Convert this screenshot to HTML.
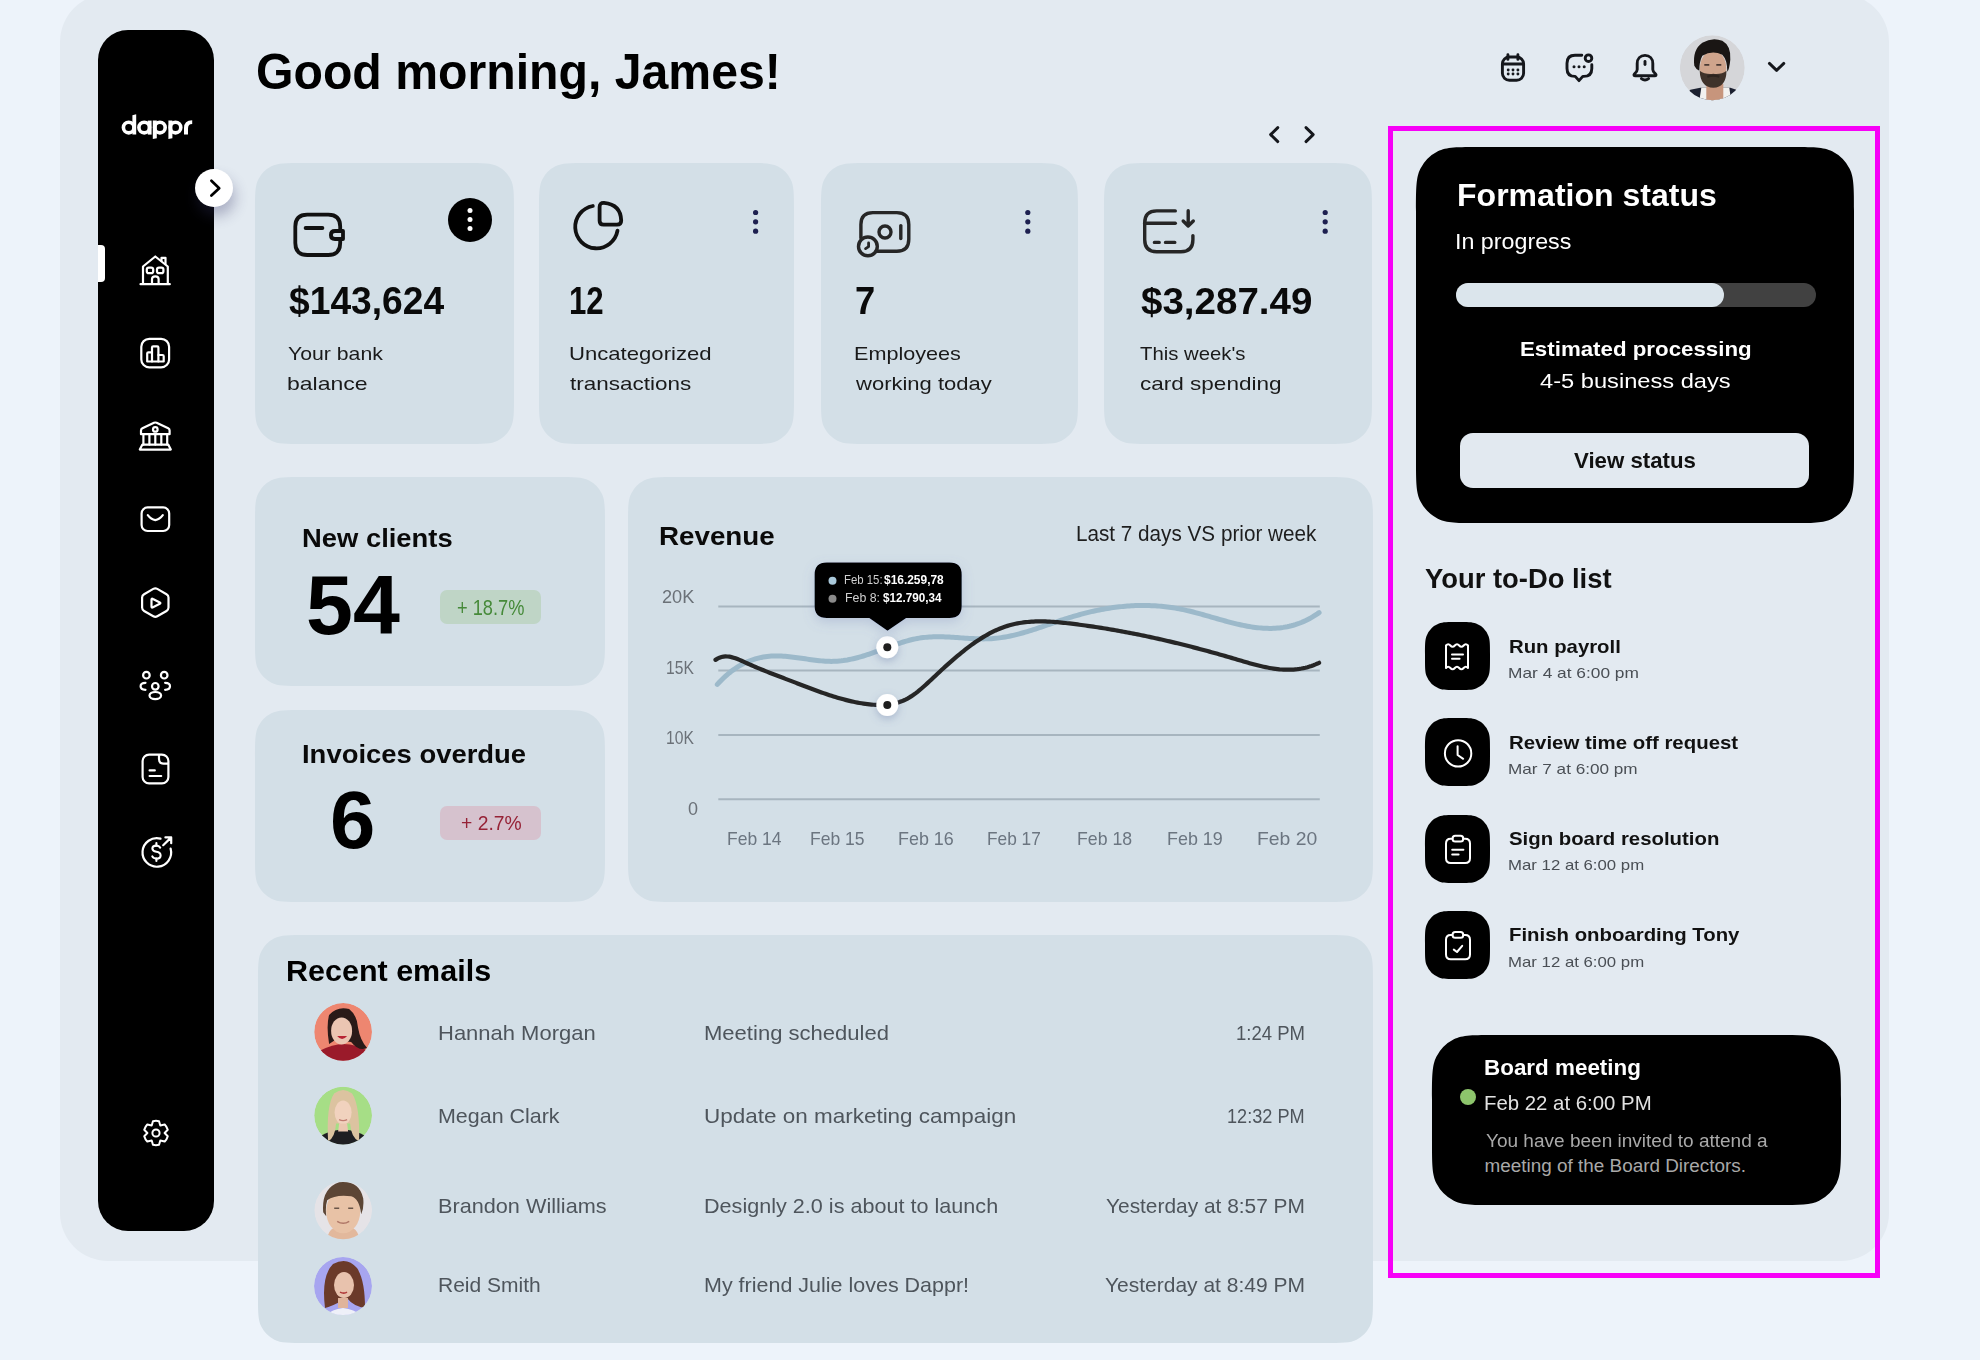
<!DOCTYPE html>
<html><head><meta charset="utf-8"><style>
html,body{margin:0;padding:0;}
body{width:1980px;height:1360px;position:relative;overflow:hidden;background:#EDF3FA;font-family:"Liberation Sans",sans-serif;}
.b{position:absolute;box-sizing:border-box;}
.t{position:absolute;white-space:nowrap;line-height:1;transform-origin:0 0;}
svg{position:absolute;overflow:visible;}
</style></head><body>
<div class="b" style="left:60px;top:-6px;width:1829px;height:1267px;background:#E3EAF1;border-radius:48px;"></div>
<div class="b" style="left:98px;top:30px;width:116px;height:1201px;background:#000;border-radius:30px;"></div>
<div class="b" style="left:98px;top:245px;width:7px;height:37px;background:#fff;border-radius:0px;border-radius:0 4px 4px 0;"></div>
<svg style="left:0;top:0" width="1980" height="1360"><path d="M466.000 163.000 c16.802 0 25.202 0 31.620 3.270 a30.000 30.000 0 0 1 13.110 13.110 c3.270 6.417 3.270 14.818 3.270 31.620 L514.000 396.000 c0 16.802 0 25.202 -3.270 31.620 a30.000 30.000 0 0 1 -13.110 13.110 c-6.417 3.270 -14.818 3.270 -31.620 3.270 L303.000 444.000 c-16.802 0 -25.202 0 -31.620 -3.270 a30.000 30.000 0 0 1 -13.110 -13.110 c-3.270 -6.417 -3.270 -14.818 -3.270 -31.620 L255.000 211.000 c0 -16.802 0 -25.202 3.270 -31.620 a30.000 30.000 0 0 1 13.110 -13.110 c6.417 -3.270 14.818 -3.270 31.620 -3.270 Z" fill="#D3DFE7"/><path d="M746.000 163.000 c16.802 0 25.202 0 31.620 3.270 a30.000 30.000 0 0 1 13.110 13.110 c3.270 6.417 3.270 14.818 3.270 31.620 L794.000 396.000 c0 16.802 0 25.202 -3.270 31.620 a30.000 30.000 0 0 1 -13.110 13.110 c-6.417 3.270 -14.818 3.270 -31.620 3.270 L587.000 444.000 c-16.802 0 -25.202 0 -31.620 -3.270 a30.000 30.000 0 0 1 -13.110 -13.110 c-3.270 -6.417 -3.270 -14.818 -3.270 -31.620 L539.000 211.000 c0 -16.802 0 -25.202 3.270 -31.620 a30.000 30.000 0 0 1 13.110 -13.110 c6.417 -3.270 14.818 -3.270 31.620 -3.270 Z" fill="#D3DFE7"/><path d="M1030.000 163.000 c16.802 0 25.202 0 31.620 3.270 a30.000 30.000 0 0 1 13.110 13.110 c3.270 6.417 3.270 14.818 3.270 31.620 L1078.000 396.000 c0 16.802 0 25.202 -3.270 31.620 a30.000 30.000 0 0 1 -13.110 13.110 c-6.417 3.270 -14.818 3.270 -31.620 3.270 L869.000 444.000 c-16.802 0 -25.202 0 -31.620 -3.270 a30.000 30.000 0 0 1 -13.110 -13.110 c-3.270 -6.417 -3.270 -14.818 -3.270 -31.620 L821.000 211.000 c0 -16.802 0 -25.202 3.270 -31.620 a30.000 30.000 0 0 1 13.110 -13.110 c6.417 -3.270 14.818 -3.270 31.620 -3.270 Z" fill="#D3DFE7"/><path d="M1324.000 163.000 c16.802 0 25.202 0 31.620 3.270 a30.000 30.000 0 0 1 13.110 13.110 c3.270 6.417 3.270 14.818 3.270 31.620 L1372.000 396.000 c0 16.802 0 25.202 -3.270 31.620 a30.000 30.000 0 0 1 -13.110 13.110 c-6.417 3.270 -14.818 3.270 -31.620 3.270 L1152.000 444.000 c-16.802 0 -25.202 0 -31.620 -3.270 a30.000 30.000 0 0 1 -13.110 -13.110 c-3.270 -6.417 -3.270 -14.818 -3.270 -31.620 L1104.000 211.000 c0 -16.802 0 -25.202 3.270 -31.620 a30.000 30.000 0 0 1 13.110 -13.110 c6.417 -3.270 14.818 -3.270 31.620 -3.270 Z" fill="#D3DFE7"/><path d="M557.000 477.000 c16.802 0 25.202 0 31.620 3.270 a30.000 30.000 0 0 1 13.110 13.110 c3.270 6.417 3.270 14.818 3.270 31.620 L605.000 638.000 c0 16.802 0 25.202 -3.270 31.620 a30.000 30.000 0 0 1 -13.110 13.110 c-6.417 3.270 -14.818 3.270 -31.620 3.270 L303.000 686.000 c-16.802 0 -25.202 0 -31.620 -3.270 a30.000 30.000 0 0 1 -13.110 -13.110 c-3.270 -6.417 -3.270 -14.818 -3.270 -31.620 L255.000 525.000 c0 -16.802 0 -25.202 3.270 -31.620 a30.000 30.000 0 0 1 13.110 -13.110 c6.417 -3.270 14.818 -3.270 31.620 -3.270 Z" fill="#D3DFE7"/><path d="M557.000 710.000 c16.802 0 25.202 0 31.620 3.270 a30.000 30.000 0 0 1 13.110 13.110 c3.270 6.417 3.270 14.818 3.270 31.620 L605.000 854.000 c0 16.802 0 25.202 -3.270 31.620 a30.000 30.000 0 0 1 -13.110 13.110 c-6.417 3.270 -14.818 3.270 -31.620 3.270 L303.000 902.000 c-16.802 0 -25.202 0 -31.620 -3.270 a30.000 30.000 0 0 1 -13.110 -13.110 c-3.270 -6.417 -3.270 -14.818 -3.270 -31.620 L255.000 758.000 c0 -16.802 0 -25.202 3.270 -31.620 a30.000 30.000 0 0 1 13.110 -13.110 c6.417 -3.270 14.818 -3.270 31.620 -3.270 Z" fill="#D3DFE7"/><path d="M1325.000 477.000 c16.802 0 25.202 0 31.620 3.270 a30.000 30.000 0 0 1 13.110 13.110 c3.270 6.417 3.270 14.818 3.270 31.620 L1373.000 854.000 c0 16.802 0 25.202 -3.270 31.620 a30.000 30.000 0 0 1 -13.110 13.110 c-6.417 3.270 -14.818 3.270 -31.620 3.270 L676.000 902.000 c-16.802 0 -25.202 0 -31.620 -3.270 a30.000 30.000 0 0 1 -13.110 -13.110 c-3.270 -6.417 -3.270 -14.818 -3.270 -31.620 L628.000 525.000 c0 -16.802 0 -25.202 3.270 -31.620 a30.000 30.000 0 0 1 13.110 -13.110 c6.417 -3.270 14.818 -3.270 31.620 -3.270 Z" fill="#D3DFE7"/><path d="M1325.000 935.000 c16.802 0 25.202 0 31.620 3.270 a30.000 30.000 0 0 1 13.110 13.110 c3.270 6.417 3.270 14.818 3.270 31.620 L1373.000 1295.000 c0 16.802 0 25.202 -3.270 31.620 a30.000 30.000 0 0 1 -13.110 13.110 c-6.417 3.270 -14.818 3.270 -31.620 3.270 L306.000 1343.000 c-16.802 0 -25.202 0 -31.620 -3.270 a30.000 30.000 0 0 1 -13.110 -13.110 c-3.270 -6.417 -3.270 -14.818 -3.270 -31.620 L258.000 983.000 c0 -16.802 0 -25.202 3.270 -31.620 a30.000 30.000 0 0 1 13.110 -13.110 c6.417 -3.270 14.818 -3.270 31.620 -3.270 Z" fill="#D3DFE7"/><path d="M1790.000 147.000 c22.402 0 33.603 0 42.160 4.360 a40.000 40.000 0 0 1 17.481 17.481 c4.360 8.556 4.360 19.758 4.360 42.160 L1854.000 459.000 c0 22.402 0 33.603 -4.360 42.160 a40.000 40.000 0 0 1 -17.481 17.481 c-8.556 4.360 -19.758 4.360 -42.160 4.360 L1480.000 523.000 c-22.402 0 -33.603 0 -42.160 -4.360 a40.000 40.000 0 0 1 -17.481 -17.481 c-4.360 -8.556 -4.360 -19.758 -4.360 -42.160 L1416.000 211.000 c0 -22.402 0 -33.603 4.360 -42.160 a40.000 40.000 0 0 1 17.481 -17.481 c8.556 -4.360 19.758 -4.360 42.160 -4.360 Z" fill="#000"/><path d="M1777.000 1035.000 c22.402 0 33.603 0 42.160 4.360 a40.000 40.000 0 0 1 17.481 17.481 c4.360 8.556 4.360 19.758 4.360 42.160 L1841.000 1141.000 c0 22.402 0 33.603 -4.360 42.160 a40.000 40.000 0 0 1 -17.481 17.481 c-8.556 4.360 -19.758 4.360 -42.160 4.360 L1496.000 1205.000 c-22.402 0 -33.603 0 -42.160 -4.360 a40.000 40.000 0 0 1 -17.481 -17.481 c-4.360 -8.556 -4.360 -19.758 -4.360 -42.160 L1432.000 1099.000 c0 -22.402 0 -33.603 4.360 -42.160 a40.000 40.000 0 0 1 17.481 -17.481 c8.556 -4.360 19.758 -4.360 42.160 -4.360 Z" fill="#000"/><path d="M1457.500 622.000 c9.782 0 14.672 0 18.555 1.528 a22.000 22.000 0 0 1 12.417 12.417 c1.528 3.883 1.528 8.773 1.528 18.555 L1490.000 657.500 c0 9.782 0 14.672 -1.528 18.555 a22.000 22.000 0 0 1 -12.417 12.417 c-3.883 1.528 -8.773 1.528 -18.555 1.528 L1457.500 690.000 c-9.782 0 -14.672 0 -18.555 -1.528 a22.000 22.000 0 0 1 -12.417 -12.417 c-1.528 -3.883 -1.528 -8.773 -1.528 -18.555 L1425.000 654.500 c0 -9.782 0 -14.672 1.528 -18.555 a22.000 22.000 0 0 1 12.417 -12.417 c3.883 -1.528 8.773 -1.528 18.555 -1.528 Z" fill="#000"/><path d="M1457.500 718.000 c9.782 0 14.672 0 18.555 1.528 a22.000 22.000 0 0 1 12.417 12.417 c1.528 3.883 1.528 8.773 1.528 18.555 L1490.000 753.500 c0 9.782 0 14.672 -1.528 18.555 a22.000 22.000 0 0 1 -12.417 12.417 c-3.883 1.528 -8.773 1.528 -18.555 1.528 L1457.500 786.000 c-9.782 0 -14.672 0 -18.555 -1.528 a22.000 22.000 0 0 1 -12.417 -12.417 c-1.528 -3.883 -1.528 -8.773 -1.528 -18.555 L1425.000 750.500 c0 -9.782 0 -14.672 1.528 -18.555 a22.000 22.000 0 0 1 12.417 -12.417 c3.883 -1.528 8.773 -1.528 18.555 -1.528 Z" fill="#000"/><path d="M1457.500 815.000 c9.782 0 14.672 0 18.555 1.528 a22.000 22.000 0 0 1 12.417 12.417 c1.528 3.883 1.528 8.773 1.528 18.555 L1490.000 850.500 c0 9.782 0 14.672 -1.528 18.555 a22.000 22.000 0 0 1 -12.417 12.417 c-3.883 1.528 -8.773 1.528 -18.555 1.528 L1457.500 883.000 c-9.782 0 -14.672 0 -18.555 -1.528 a22.000 22.000 0 0 1 -12.417 -12.417 c-1.528 -3.883 -1.528 -8.773 -1.528 -18.555 L1425.000 847.500 c0 -9.782 0 -14.672 1.528 -18.555 a22.000 22.000 0 0 1 12.417 -12.417 c3.883 -1.528 8.773 -1.528 18.555 -1.528 Z" fill="#000"/><path d="M1457.500 911.000 c9.782 0 14.672 0 18.555 1.528 a22.000 22.000 0 0 1 12.417 12.417 c1.528 3.883 1.528 8.773 1.528 18.555 L1490.000 946.500 c0 9.782 0 14.672 -1.528 18.555 a22.000 22.000 0 0 1 -12.417 12.417 c-3.883 1.528 -8.773 1.528 -18.555 1.528 L1457.500 979.000 c-9.782 0 -14.672 0 -18.555 -1.528 a22.000 22.000 0 0 1 -12.417 -12.417 c-1.528 -3.883 -1.528 -8.773 -1.528 -18.555 L1425.000 943.500 c0 -9.782 0 -14.672 1.528 -18.555 a22.000 22.000 0 0 1 12.417 -12.417 c3.883 -1.528 8.773 -1.528 18.555 -1.528 Z" fill="#000"/></svg>
<div class="b" style="left:1388px;top:126px;width:492px;height:1152px;border:5px solid #F700F7;"></div>
<div class="b" style="left:1456px;top:283px;width:360px;height:24px;background:#414141;border-radius:12px;"></div>
<div class="b" style="left:1456px;top:283px;width:268px;height:24px;background:#DBE5EC;border-radius:12px;"></div>
<div class="b" style="left:1460px;top:433px;width:349px;height:55px;background:#E2E9F0;border-radius:13px;"></div>
<div class="b" style="left:440px;top:590px;width:101px;height:34px;background:#BFD5C6;border-radius:7px;"></div>
<div class="b" style="left:440px;top:806px;width:101px;height:34px;background:#D6C2CE;border-radius:7px;"></div>
<div class="b" style="left:1460px;top:1089px;width:16px;height:16px;border-radius:50%;background:#8DC56C"></div>
<div class="b" style="left:195px;top:169px;width:38px;height:38px;border-radius:50%;background:#fff;box-shadow:2px 9px 14px rgba(50,50,100,0.32)"></div>
<div class="b" style="left:448px;top:198px;width:44px;height:44px;border-radius:50%;background:#000"></div>
<svg style="left:0;top:0" width="1980" height="1360" viewBox="0 0 1980 1360"><g fill="none" stroke="#fff" stroke-width="2.2" stroke-linecap="round" stroke-linejoin="round"><path d="M140.5 284.2 H169.8"/><path d="M143 284 V266.5 L155.3 256.5 L167.8 266.5 V284"/><path d="M161.5 260.8 V257.8 H165.5 V264"/><rect x="146.8" y="267.6" width="6.4" height="5.6" rx="2"/><rect x="157" y="267.6" width="6.4" height="5.6" rx="2"/><path d="M152 284 V279 Q152 276.3 155.3 276.3 Q158.6 276.3 158.6 279 V284"/><rect x="141.3" y="338.8" width="27.8" height="28.6" rx="8"/><path d="M147.2 361.5 V353.5 Q147.2 352.3 148.4 352.3 H152 V347.5 Q152 346.3 153.2 346.3 H157.2 Q158.4 346.3 158.4 347.5 V355 H162.5 Q163.7 355 163.7 356.2 V361.5 Z"/><path d="M152 352.3 V361.5 M158.4 355 V361.5"/><path d="M141 434.2 V430.5 Q141 429 142.4 428.3 L154 422.8 Q155.3 422.2 156.6 422.8 L168.2 428.3 Q169.6 429 169.6 430.5 V434.2 Z"/><circle cx="155.3" cy="429.4" r="2.3"/><path d="M143.4 434.2 V444.6 M149.4 434.2 V444.6 M155.3 434.2 V444.6 M161.3 434.2 V444.6 M167.2 434.2 V444.6"/><path d="M142.4 444.6 H168.2 L170.8 449.6 H139.8 Z"/><rect x="141.6" y="507.4" width="27.6" height="23.6" rx="6"/><path d="M147.8 515.2 Q151 519.5 155.3 520.2 Q159.6 519.5 162.8 515.2"/><path d="M153.3 588.9 Q155.3 587.8 157.3 588.9 L166.5 594.2 Q168.5 595.4 168.5 597.6 V607.6 Q168.5 609.8 166.5 611 L157.3 616.3 Q155.3 617.4 153.3 616.3 L144.1 611 Q142.1 609.8 142.1 607.6 V597.6 Q142.1 595.4 144.1 594.2 Z"/><path d="M151.5 599.6 Q151.5 598 153 598.9 L159.8 602.4 Q161 603.1 159.8 603.8 L153 607.3 Q151.5 608.2 151.5 606.6 Z"/><circle cx="146.4" cy="675.2" r="3.3"/><circle cx="164.2" cy="675.2" r="3.3"/><circle cx="155.3" cy="686.3" r="3.3"/><path d="M145.5 682.8 Q140.6 682.8 140.6 686.3 Q140.6 689.8 145.5 689.8"/><path d="M165.1 682.8 Q170 682.8 170 686.3 Q170 689.8 165.1 689.8"/><ellipse cx="155.3" cy="695.6" rx="5.8" ry="3.6"/><rect x="142.6" y="754.6" width="25.8" height="28.8" rx="6.5"/><path d="M159 755 V759 Q159 763.6 163.6 763.6 H168"/><path d="M149.6 770.4 H154.8 M149.6 776 H161.2"/><path d="M160.5 838.6 A14.3 14.3 0 1 0 170.6 848.6"/><path d="M163.2 845.2 L171 837.6 M165.4 837.4 H171.2 V843.2"/></g><g fill="none" stroke="#fff" stroke-width="2.1" stroke-linecap="round"><path d="M160.2 847.6 Q159 845.6 156.4 845.6 Q152.4 845.6 152.4 848.6 Q152.4 851.2 156.4 851.8 Q160.6 852.4 160.6 855.4 Q160.6 858.6 156.4 858.6 Q153.4 858.6 152.3 856.4"/><path d="M156.4 843 V845.6 M156.4 858.6 V861"/></g><path d="M151.70 1125.55 L152.96 1121.19 A12.2 12.2 0 0 1 159.04 1121.19 L160.30 1125.55 L160.30 1125.55 L164.71 1124.46 A12.2 12.2 0 0 1 167.75 1129.73 L164.60 1133.00 L164.60 1133.00 L167.75 1136.27 A12.2 12.2 0 0 1 164.71 1141.54 L160.30 1140.45 L160.30 1140.45 L159.04 1144.81 A12.2 12.2 0 0 1 152.96 1144.81 L151.70 1140.45 L151.70 1140.45 L147.29 1141.54 A12.2 12.2 0 0 1 144.25 1136.27 L147.40 1133.00 L147.40 1133.00 L144.25 1129.73 A12.2 12.2 0 0 1 147.29 1124.46 L151.70 1125.55 Z" fill="none" stroke="#fff" stroke-width="2" stroke-linejoin="round"/><circle cx="156" cy="1133" r="3.6" fill="none" stroke="#fff" stroke-width="2"/><path d="M211.4 180.8 L219.2 188.2 L211.4 195.6" fill="none" stroke="#000" stroke-width="2.7" stroke-linecap="round" stroke-linejoin="round"/><g fill="none" stroke="#fff" stroke-width="3.6"><circle cx="128.7" cy="127.6" r="5.3"/><circle cx="144.2" cy="127.6" r="5.3"/><circle cx="159.9" cy="127.6" r="5.3"/><circle cx="175.5" cy="127.6" r="5.3"/></g><g fill="#fff"><path d="M132.4 115.2 L136.2 114.2 V134.6 H132.4 Z"/><path d="M147.8 120.6 H151.6 V134.6 H147.8 Z"/><path d="M152.8 120.6 H156.8 V138.2 L152.8 139 Z"/><path d="M168.4 120.6 H172.4 V138.2 L168.4 139 Z"/><path d="M184 134.6 V128 Q184 120.2 192.2 120.2 L192.2 124 Q188 124 188 128.4 V134.6 Z"/></g><g fill="none" stroke="#15171c" stroke-width="2.9" stroke-linecap="round" stroke-linejoin="round"><rect x="1502.4" y="57" width="21.2" height="23.3" rx="7"/><path d="M1502.6 64 H1523.4 M1507.9 54.8 V59.4 M1517.9 54.8 V59.4"/></g><g fill="#15171c"><circle cx="1508.2" cy="70" r="1.45"/><circle cx="1513" cy="70" r="1.45"/><circle cx="1517.9" cy="70" r="1.45"/><circle cx="1508.2" cy="74" r="1.45"/><circle cx="1513" cy="74" r="1.45"/><circle cx="1517.9" cy="74" r="1.45"/><circle cx="1574" cy="66.7" r="1.5"/><circle cx="1579" cy="66.7" r="1.5"/><circle cx="1584.2" cy="66.7" r="1.5"/></g><g fill="none" stroke="#15171c" stroke-width="2.9" stroke-linecap="round" stroke-linejoin="round"><path d="M1581.8 55.2 H1575 Q1567 55.2 1567 63.2 V68.4 Q1567 76.4 1575 76.4 H1575.2 L1579 80.6 L1582.8 76.4 H1583.8 Q1591.8 76.4 1591.8 68.4 V64.8"/><circle cx="1588.5" cy="58.2" r="3.3"/><path d="M1645 55.4 C1640.2 55.4 1637.2 59 1637.2 63.6 V69.4 C1637.2 71.4 1635.6 72.8 1634.6 73.8 C1633.4 75 1634 75.8 1635.4 75.8 H1654.6 C1656 75.8 1656.6 75 1655.4 73.8 C1654.4 72.8 1652.8 71.4 1652.8 69.4 V63.6 C1652.8 59 1649.8 55.4 1645 55.4 Z"/><path d="M1641.4 78.6 Q1645 81.4 1648.6 78.6"/><path d="M1645 61.4 V64.6"/><path d="M1769.4 63.4 L1776.6 70.4 L1783.8 63.4"/><path d="M1277.8 127.6 L1270.6 134.6 L1277.8 141.6 M1306 127.6 L1313.2 134.6 L1306 141.6"/></g><g fill="none" stroke="#111" stroke-width="3.8" stroke-linecap="round" stroke-linejoin="round"><path d="M340.2 230.2 V226.6 Q340.2 214.6 328.2 214.6 H307.3 Q295.3 214.6 295.3 226.6 V243 Q295.3 255 307.3 255 H328.2 Q340.2 255 340.2 243 V239.8"/><path d="M305.6 228 H322.4"/><path d="M343 231 H335 Q330.9 231 330.9 235 Q330.9 239 335 239 H343 Z"/><path d="M592.8 206 A21.3 21.3 0 1 0 617.5 230.7"/><path d="M599.6 207 Q599.6 202.6 604 202.8 Q620.8 204.4 621.2 220.6 Q621.2 224.7 617 224.7 H603.6 Q599.6 224.7 599.6 220.7 Z"/></g><g fill="none" stroke="#262626" stroke-width="3.4" stroke-linecap="round" stroke-linejoin="round"><path d="M860.9 238 V224.6 Q860.9 212.6 872.9 212.6 H896.8 Q908.8 212.6 908.8 224.6 V239.2 Q908.8 251.2 896.8 251.2 H877.5"/><circle cx="885" cy="232" r="6"/><path d="M900.8 225.6 V238.5"/><circle cx="867.9" cy="246.4" r="9.4"/><path d="M868.6 243 V246.6 L865.6 248.6" stroke-width="2.8"/><path d="M1175.3 210.9 H1156.7 Q1144.7 210.9 1144.7 222.9 V239.8 Q1144.7 251.8 1156.7 251.8 H1180.9 Q1192.9 251.8 1192.9 239.8 V235.6"/><path d="M1144.7 223.2 H1175.3"/><path d="M1154.4 242.4 H1159.2 M1165.5 242.4 H1174.8"/><path d="M1188.2 210.8 V226 M1183.2 221 L1188.2 226 L1193.3 221"/></g><g fill="#fff"><circle cx="470" cy="210.5" r="2.5"/><circle cx="470" cy="219.5" r="2.5"/><circle cx="470" cy="228.5" r="2.5"/></g><g fill="#1d2050"><circle cx="755.6" cy="212.5" r="2.6"/><circle cx="755.6" cy="221.8" r="2.6"/><circle cx="755.6" cy="231.2" r="2.6"/><circle cx="1027.8" cy="212.5" r="2.6"/><circle cx="1027.8" cy="221.8" r="2.6"/><circle cx="1027.8" cy="231.2" r="2.6"/><circle cx="1325.2" cy="212.5" r="2.6"/><circle cx="1325.2" cy="221.8" r="2.6"/><circle cx="1325.2" cy="231.2" r="2.6"/></g><g fill="none" stroke="#fff" stroke-width="2" stroke-linecap="round" stroke-linejoin="round"><path d="M1446 645.5 Q1448.2 642.8 1450.4 645.5 Q1452.6 648.2 1454.8 645.5 Q1457 642.8 1459.2 645.5 Q1461.4 648.2 1463.6 645.5 Q1465.8 642.8 1468 645.5 V668 Q1465.8 665.3 1463.6 668 Q1461.4 670.7 1459.2 668 Q1457 665.3 1454.8 668 Q1452.6 670.7 1450.4 668 Q1448.2 665.3 1446 668 Z"/><path d="M1452 654.6 H1463 M1452 658.8 H1459.6"/><circle cx="1458.1" cy="753.4" r="13.2"/><path d="M1457.6 746.2 V755 L1463.2 758.8"/><path d="M1452.4 838.8 H1450.6 Q1446 838.8 1446 843.6 V858.2 Q1446 863 1450.8 863 H1465.2 Q1470 863 1470 858.2 V843.6 Q1470 838.8 1465.2 838.8 H1463.2"/><rect x="1452.6" y="835.8" width="10.6" height="5.8" rx="2.6"/><path d="M1452.2 849.8 H1463.4 M1452.2 854.6 H1458.6"/><path d="M1452.4 935 H1450.6 Q1446 935 1446 939.8 V954.4 Q1446 959.2 1450.8 959.2 H1465.2 Q1470 959.2 1470 954.4 V939.8 Q1470 935 1465.2 935 H1463.2"/><rect x="1452.6" y="932" width="10.6" height="5.8" rx="2.6"/><path d="M1453.8 949.6 L1457 952 L1462.2 945.8"/></g></svg>
<svg style="left:0;top:0" width="1980" height="1360" viewBox="0 0 1980 1360"><defs><filter id="sh" x="-50%" y="-50%" width="200%" height="200%"><feDropShadow dx="0" dy="3" stdDeviation="4" flood-color="#5a6aa0" flood-opacity="0.35"/></filter><filter id="sh2" x="-30%" y="-30%" width="160%" height="180%"><feDropShadow dx="0" dy="4" stdDeviation="6" flood-color="#6a78b0" flood-opacity="0.25"/></filter></defs><path d="M718.3 606.6 H1319.8" stroke="#A7B5BF" stroke-width="2"/><path d="M718.3 670.6 H1319.8" stroke="#A7B5BF" stroke-width="2"/><path d="M718.3 734.9 H1319.8" stroke="#A7B5BF" stroke-width="2"/><path d="M718.3 799.2 H1319.8" stroke="#A7B5BF" stroke-width="2"/><path d="M717.30 684.37 L719.30 682.22 L721.30 680.16 L723.30 678.21 L725.30 676.35 L727.30 674.59 L729.30 672.93 L731.30 671.35 L733.30 669.87 L735.30 668.47 L737.30 667.16 L739.30 665.93 L741.30 664.79 L743.30 663.72 L745.30 662.74 L747.30 661.83 L749.30 660.99 L751.30 660.23 L753.30 659.53 L755.30 658.91 L757.30 658.35 L759.30 657.85 L761.30 657.42 L763.30 657.05 L765.30 656.74 L767.30 656.48 L769.30 656.27 L771.30 656.12 L773.30 656.02 L775.30 655.97 L777.30 655.96 L779.30 656.00 L781.30 656.07 L783.30 656.18 L785.30 656.32 L787.30 656.49 L789.30 656.69 L791.30 656.91 L793.30 657.15 L795.30 657.41 L797.30 657.68 L799.30 657.96 L801.30 658.25 L803.30 658.55 L805.30 658.84 L807.30 659.13 L809.30 659.42 L811.30 659.70 L813.30 659.97 L815.30 660.23 L817.30 660.46 L819.30 660.68 L821.30 660.87 L823.30 661.04 L825.30 661.18 L827.30 661.28 L829.30 661.35 L831.30 661.38 L833.30 661.36 L835.30 661.30 L837.30 661.19 L839.30 661.03 L841.30 660.83 L843.30 660.58 L845.30 660.28 L847.30 659.95 L849.30 659.57 L851.30 659.16 L853.30 658.71 L855.30 658.22 L857.30 657.71 L859.30 657.16 L861.30 656.59 L863.30 655.99 L865.30 655.37 L867.30 654.72 L869.30 654.06 L871.30 653.37 L873.30 652.67 L875.30 651.96 L877.30 651.24 L879.30 650.50 L881.30 649.76 L883.30 649.02 L885.30 648.28 L887.30 647.54 L889.30 646.80 L891.30 646.07 L893.30 645.35 L895.30 644.65 L897.30 643.95 L899.30 643.28 L901.30 642.63 L903.30 642.00 L905.30 641.40 L907.30 640.83 L909.30 640.28 L911.30 639.77 L913.30 639.30 L915.30 638.87 L917.30 638.48 L919.30 638.14 L921.30 637.84 L923.30 637.58 L925.30 637.36 L927.30 637.18 L929.30 637.04 L931.30 636.93 L933.30 636.85 L935.30 636.80 L937.30 636.78 L939.30 636.79 L941.30 636.82 L943.30 636.86 L945.30 636.93 L947.30 637.02 L949.30 637.11 L951.30 637.22 L953.30 637.35 L955.30 637.47 L957.30 637.61 L959.30 637.75 L961.30 637.88 L963.30 638.02 L965.30 638.16 L967.30 638.29 L969.30 638.41 L971.30 638.52 L973.30 638.62 L975.30 638.71 L977.30 638.78 L979.30 638.83 L981.30 638.87 L983.30 638.88 L985.30 638.86 L987.30 638.82 L989.30 638.75 L991.30 638.64 L993.30 638.51 L995.30 638.34 L997.30 638.13 L999.30 637.89 L1001.30 637.61 L1003.30 637.30 L1005.30 636.96 L1007.30 636.59 L1009.30 636.19 L1011.30 635.77 L1013.30 635.32 L1015.30 634.84 L1017.30 634.34 L1019.30 633.82 L1021.30 633.28 L1023.30 632.72 L1025.30 632.14 L1027.30 631.55 L1029.30 630.94 L1031.30 630.32 L1033.30 629.68 L1035.30 629.04 L1037.30 628.38 L1039.30 627.72 L1041.30 627.05 L1043.30 626.37 L1045.30 625.69 L1047.30 625.00 L1049.30 624.32 L1051.30 623.63 L1053.30 622.95 L1055.30 622.26 L1057.30 621.58 L1059.30 620.91 L1061.30 620.24 L1063.30 619.58 L1065.30 618.93 L1067.30 618.29 L1069.30 617.66 L1071.30 617.04 L1073.30 616.44 L1075.30 615.85 L1077.30 615.28 L1079.30 614.72 L1081.30 614.17 L1083.30 613.64 L1085.30 613.13 L1087.30 612.63 L1089.30 612.14 L1091.30 611.68 L1093.30 611.22 L1095.30 610.79 L1097.30 610.36 L1099.30 609.96 L1101.30 609.57 L1103.30 609.20 L1105.30 608.84 L1107.30 608.50 L1109.30 608.18 L1111.30 607.88 L1113.30 607.59 L1115.30 607.32 L1117.30 607.07 L1119.30 606.83 L1121.30 606.62 L1123.30 606.42 L1125.30 606.24 L1127.30 606.08 L1129.30 605.94 L1131.30 605.81 L1133.30 605.71 L1135.30 605.62 L1137.30 605.55 L1139.30 605.50 L1141.30 605.48 L1143.30 605.47 L1145.30 605.48 L1147.30 605.51 L1149.30 605.56 L1151.30 605.63 L1153.30 605.72 L1155.30 605.84 L1157.30 605.97 L1159.30 606.13 L1161.30 606.30 L1163.30 606.50 L1165.30 606.72 L1167.30 606.96 L1169.30 607.22 L1171.30 607.50 L1173.30 607.81 L1175.30 608.14 L1177.30 608.49 L1179.30 608.86 L1181.30 609.26 L1183.30 609.67 L1185.30 610.11 L1187.30 610.57 L1189.30 611.04 L1191.30 611.54 L1193.30 612.04 L1195.30 612.56 L1197.30 613.09 L1199.30 613.63 L1201.30 614.19 L1203.30 614.75 L1205.30 615.31 L1207.30 615.88 L1209.30 616.46 L1211.30 617.03 L1213.30 617.61 L1215.30 618.19 L1217.30 618.76 L1219.30 619.33 L1221.30 619.90 L1223.30 620.46 L1225.30 621.01 L1227.30 621.56 L1229.30 622.09 L1231.30 622.61 L1233.30 623.12 L1235.30 623.61 L1237.30 624.09 L1239.30 624.55 L1241.30 624.99 L1243.30 625.41 L1245.30 625.81 L1247.30 626.19 L1249.30 626.54 L1251.30 626.86 L1253.30 627.16 L1255.30 627.43 L1257.30 627.67 L1259.30 627.88 L1261.30 628.05 L1263.30 628.19 L1265.30 628.30 L1267.30 628.37 L1269.30 628.40 L1271.30 628.39 L1273.30 628.33 L1275.30 628.24 L1277.30 628.10 L1279.30 627.92 L1281.30 627.68 L1283.30 627.40 L1285.30 627.07 L1287.30 626.69 L1289.30 626.26 L1291.30 625.77 L1293.30 625.23 L1295.30 624.63 L1297.30 623.97 L1299.30 623.26 L1301.30 622.48 L1303.30 621.64 L1305.30 620.73 L1307.30 619.76 L1309.30 618.73 L1311.30 617.62 L1313.30 616.45 L1315.30 615.20 L1317.30 613.89 L1319.10 612.64" fill="none" stroke="#9CB9CA" stroke-width="5" stroke-linecap="round"/><path d="M715.50 659.88 L717.50 658.63 L719.50 657.68 L721.50 657.02 L723.50 656.61 L725.50 656.44 L727.50 656.48 L729.50 656.70 L731.50 657.10 L733.50 657.64 L735.50 658.30 L737.50 659.06 L739.50 659.89 L741.50 660.77 L743.50 661.69 L745.50 662.61 L747.50 663.52 L749.50 664.41 L751.50 665.29 L753.50 666.16 L755.50 667.01 L757.50 667.85 L759.50 668.68 L761.50 669.50 L763.50 670.31 L765.50 671.12 L767.50 671.91 L769.50 672.70 L771.50 673.48 L773.50 674.25 L775.50 675.02 L777.50 675.79 L779.50 676.56 L781.50 677.32 L783.50 678.08 L785.50 678.84 L787.50 679.60 L789.50 680.36 L791.50 681.13 L793.50 681.90 L795.50 682.66 L797.50 683.43 L799.50 684.20 L801.50 684.97 L803.50 685.74 L805.50 686.50 L807.50 687.26 L809.50 688.02 L811.50 688.77 L813.50 689.51 L815.50 690.25 L817.50 690.98 L819.50 691.70 L821.50 692.41 L823.50 693.11 L825.50 693.80 L827.50 694.48 L829.50 695.14 L831.50 695.79 L833.50 696.43 L835.50 697.05 L837.50 697.65 L839.50 698.23 L841.50 698.80 L843.50 699.35 L845.50 699.88 L847.50 700.39 L849.50 700.88 L851.50 701.34 L853.50 701.78 L855.50 702.20 L857.50 702.59 L859.50 702.96 L861.50 703.30 L863.50 703.61 L865.50 703.89 L867.50 704.15 L869.50 704.37 L871.50 704.56 L873.50 704.73 L875.50 704.85 L877.50 704.94 L879.50 704.99 L881.50 704.98 L883.50 704.93 L885.50 704.82 L887.50 704.64 L889.50 704.40 L891.50 704.09 L893.50 703.71 L895.50 703.25 L897.50 702.70 L899.50 702.06 L901.50 701.33 L903.50 700.51 L905.50 699.58 L907.50 698.54 L909.50 697.40 L911.50 696.14 L913.50 694.78 L915.50 693.33 L917.50 691.79 L919.50 690.17 L921.50 688.49 L923.50 686.76 L925.50 684.97 L927.50 683.15 L929.50 681.30 L931.50 679.43 L933.50 677.54 L935.50 675.66 L937.50 673.78 L939.50 671.92 L941.50 670.07 L943.50 668.23 L945.50 666.41 L947.50 664.61 L949.50 662.83 L951.50 661.07 L953.50 659.34 L955.50 657.62 L957.50 655.94 L959.50 654.27 L961.50 652.64 L963.50 651.03 L965.50 649.46 L967.50 647.92 L969.50 646.41 L971.50 644.93 L973.50 643.50 L975.50 642.09 L977.50 640.73 L979.50 639.41 L981.50 638.13 L983.50 636.90 L985.50 635.70 L987.50 634.56 L989.50 633.46 L991.50 632.41 L993.50 631.41 L995.50 630.46 L997.50 629.57 L999.50 628.72 L1001.50 627.94 L1003.50 627.20 L1005.50 626.52 L1007.50 625.88 L1009.50 625.30 L1011.50 624.76 L1013.50 624.26 L1015.50 623.81 L1017.50 623.41 L1019.50 623.04 L1021.50 622.72 L1023.50 622.43 L1025.50 622.18 L1027.50 621.97 L1029.50 621.79 L1031.50 621.65 L1033.50 621.54 L1035.50 621.46 L1037.50 621.41 L1039.50 621.38 L1041.50 621.39 L1043.50 621.41 L1045.50 621.47 L1047.50 621.54 L1049.50 621.64 L1051.50 621.75 L1053.50 621.89 L1055.50 622.04 L1057.50 622.20 L1059.50 622.39 L1061.50 622.58 L1063.50 622.79 L1065.50 623.00 L1067.50 623.23 L1069.50 623.46 L1071.50 623.70 L1073.50 623.94 L1075.50 624.19 L1077.50 624.45 L1079.50 624.71 L1081.50 624.97 L1083.50 625.24 L1085.50 625.52 L1087.50 625.80 L1089.50 626.09 L1091.50 626.38 L1093.50 626.67 L1095.50 626.97 L1097.50 627.28 L1099.50 627.59 L1101.50 627.90 L1103.50 628.22 L1105.50 628.55 L1107.50 628.88 L1109.50 629.22 L1111.50 629.56 L1113.50 629.90 L1115.50 630.25 L1117.50 630.60 L1119.50 630.96 L1121.50 631.33 L1123.50 631.70 L1125.50 632.07 L1127.50 632.45 L1129.50 632.83 L1131.50 633.21 L1133.50 633.61 L1135.50 634.00 L1137.50 634.40 L1139.50 634.81 L1141.50 635.22 L1143.50 635.63 L1145.50 636.05 L1147.50 636.47 L1149.50 636.90 L1151.50 637.33 L1153.50 637.77 L1155.50 638.21 L1157.50 638.65 L1159.50 639.10 L1161.50 639.55 L1163.50 640.01 L1165.50 640.47 L1167.50 640.93 L1169.50 641.40 L1171.50 641.88 L1173.50 642.35 L1175.50 642.84 L1177.50 643.32 L1179.50 643.81 L1181.50 644.30 L1183.50 644.80 L1185.50 645.30 L1187.50 645.81 L1189.50 646.32 L1191.50 646.83 L1193.50 647.35 L1195.50 647.87 L1197.50 648.39 L1199.50 648.92 L1201.50 649.46 L1203.50 649.99 L1205.50 650.53 L1207.50 651.07 L1209.50 651.62 L1211.50 652.17 L1213.50 652.73 L1215.50 653.28 L1217.50 653.85 L1219.50 654.41 L1221.50 654.98 L1223.50 655.55 L1225.50 656.13 L1227.50 656.71 L1229.50 657.29 L1231.50 657.87 L1233.50 658.46 L1235.50 659.06 L1237.50 659.65 L1239.50 660.25 L1241.50 660.84 L1243.50 661.43 L1245.50 662.02 L1247.50 662.59 L1249.50 663.16 L1251.50 663.72 L1253.50 664.27 L1255.50 664.80 L1257.50 665.31 L1259.50 665.81 L1261.50 666.28 L1263.50 666.73 L1265.50 667.16 L1267.50 667.56 L1269.50 667.94 L1271.50 668.28 L1273.50 668.59 L1275.50 668.87 L1277.50 669.11 L1279.50 669.32 L1281.50 669.48 L1283.50 669.61 L1285.50 669.69 L1287.50 669.72 L1289.50 669.71 L1291.50 669.65 L1293.50 669.54 L1295.50 669.37 L1297.50 669.16 L1299.50 668.88 L1301.50 668.54 L1303.50 668.15 L1305.50 667.69 L1307.50 667.17 L1309.50 666.58 L1311.50 665.92 L1313.50 665.20 L1315.50 664.40 L1317.50 663.53 L1319.10 662.78" fill="none" stroke="#262626" stroke-width="4.2" stroke-linecap="round"/><circle cx="887.3" cy="647.2" r="11" fill="#fff" filter="url(#sh)"/><circle cx="887.3" cy="647.2" r="4" fill="#1e1e1e"/><circle cx="887.3" cy="705.0" r="11" fill="#fff" filter="url(#sh)"/><circle cx="887.3" cy="705.0" r="4" fill="#1e1e1e"/><path d="M826.6 562.5 H949.7 Q961.7 562.5 961.7 574.5 V605.9 Q961.7 617.9 949.7 617.9 H906.2 L887.5 630.8 L869.2 617.9 H826.6 Q814.6 617.9 814.6 605.9 V574.5 Q814.6 562.5 826.6 562.5 Z" fill="#000" filter="url(#sh2)"/><circle cx="832.5" cy="580.8" r="4" fill="#A9C8DA"/><circle cx="832.5" cy="598.8" r="4" fill="#8a8a8a"/></svg>
<svg style="left:0;top:0" width="1980" height="1360" viewBox="0 0 1980 1360"><clipPath id="a1"><circle cx="343.1" cy="1031.9" r="28.9"/></clipPath><g clip-path="url(#a1)"><circle cx="343.1" cy="1031.9" r="28.9" fill="#EE8670"/><path d="M309.1 1071.9 L319.1 1050.9 Q333.1 1043.9 343.1 1043.9 Q357.1 1043.9 369.1 1051.9 L377.1 1071.9 Z" fill="#9A1A2A"/><path d="M329.1 1043.9 Q326.1 1025.9 329.1 1014.9000000000001 Q337.1 1005.9000000000001 349.1 1008.9000000000001 Q357.1 1014.9000000000001 358.1 1027.9 Q360.1 1039.9 367.1 1047.9 Q359.1 1051.9 351.1 1041.9 L335.1 1039.9 Z" fill="#2A1A18"/><ellipse cx="341.6" cy="1030.9" rx="10.5" ry="13.5" fill="#EBC5B2"/><path d="M337.1 1035.9 Q342.1 1041.9 347.1 1035.9 Z" fill="#B82434"/></g><clipPath id="a2"><circle cx="343.1" cy="1115.6" r="28.9"/></clipPath><g clip-path="url(#a2)"><circle cx="343.1" cy="1115.6" r="28.9" fill="#A6DE86"/><path d="M309.1 1155.6 Q313.1 1131.6 343.1 1129.6 Q373.1 1131.6 377.1 1155.6 Z" fill="#1E1E22"/><path d="M328.1 1141.6 Q326.1 1105.6 334.1 1093.6 Q343.1 1086.6 352.1 1093.6 Q360.1 1105.6 359.1 1141.6 Q351.1 1137.6 350.1 1123.6 L336.1 1123.6 Q335.1 1137.6 328.1 1141.6 Z" fill="#DCC3A0"/><ellipse cx="343.1" cy="1112.6" rx="8.5" ry="12" fill="#F1D2BE"/><path d="M339.1 1123.6 H347.1 L348.1 1131.6 H338.1 Z" fill="#EBC7B0"/><path d="M339.1 1119.6 Q343.1 1121.6 347.1 1119.6" stroke="#C07a70" stroke-width="1.4" fill="none"/></g><clipPath id="a3"><circle cx="343.2" cy="1210.3" r="28.9"/></clipPath><g clip-path="url(#a3)"><circle cx="343.2" cy="1210.3" r="28.9" fill="#E5E3E7"/><path d="M326.2 1242.3 Q328.2 1230.3 333.2 1228.3 H353.2 Q358.2 1230.3 360.2 1242.3 Z" fill="#E2B89C"/><ellipse cx="343.2" cy="1211.3" rx="17" ry="22" fill="#E8C2A6"/><path d="M323.2 1212.3 Q321.2 1188.3 339.2 1182.3 Q359.2 1180.3 363.2 1198.3 Q364.2 1208.3 361.2 1214.3 Q359.2 1198.3 351.2 1196.3 Q335.2 1194.3 327.2 1200.3 Q325.2 1206.3 326.2 1216.3 Z" fill="#5C4535"/><path d="M334.2 1208.3 h5 M348.2 1208.3 h5" stroke="#6A5548" stroke-width="1.6"/><path d="M337.2 1221.3 Q343.2 1225.3 349.2 1221.3" stroke="#B07868" stroke-width="1.6" fill="none"/></g><clipPath id="a4"><circle cx="343.0" cy="1286.1" r="29"/></clipPath><g clip-path="url(#a4)"><circle cx="343.0" cy="1286.1" r="29" fill="#A7A5F0"/><path d="M323.0 1320.1 Q327.0 1310.1 343.0 1308.1 Q359.0 1310.1 365.0 1320.1 Z" fill="#EEF0F8"/><path d="M325.0 1308.1 Q321.0 1276.1 333.0 1264.1 Q347.0 1256.1 357.0 1268.1 Q365.0 1280.1 365.0 1308.1 Q353.0 1306.1 347.0 1298.1 Q333.0 1306.1 325.0 1308.1 Z" fill="#6B3A2A"/><ellipse cx="344.0" cy="1285.1" rx="10" ry="13" fill="#E8C2AD"/><path d="M338.0 1298.1 H348.0 V1308.1 H338.0 Z" fill="#E0B49C"/><path d="M340.0 1292.1 Q344.0 1294.1 347.0 1292.1" stroke="#B03A3A" stroke-width="1.6" fill="none"/></g><clipPath id="a5"><circle cx="1712.3" cy="67.8" r="32.5"/></clipPath><g clip-path="url(#a5)"><circle cx="1712.3" cy="67.8" r="32.5" fill="#D5D6D9"/><path d="M1676.3 107.8 L1690.3 89.8 L1700.3 87.8 L1730.3 87.8 L1736.3 89.8 L1748.3 107.8 Z" fill="#1B2030"/><path d="M1698.3 107.8 L1701.3 87.8 H1729.3 L1732.3 107.8 Z" fill="#F2F1EF"/><path d="M1706.3 107.8 L1706.3 83.8 H1723.3 L1723.3 107.8 Z" fill="#C7957C"/><ellipse cx="1713.1" cy="68.8" rx="13.2" ry="18.5" fill="#CFA48C"/><path d="M1699.7 70.8 Q1700.3 87.3 1713.3 87.8 Q1726.3 87.3 1726.5 70.8 Q1721.3 74.8 1713.3 73.8 Q1705.3 74.8 1699.7 70.8 Z" fill="#3F322A"/><path d="M1707.3 76.8 Q1713.3 74.3 1719.3 76.8" stroke="#2E241F" stroke-width="2.2" fill="none"/><path d="M1694.3 65.8 Q1692.3 49.8 1702.3 42.8 Q1712.3 36.8 1722.3 40.8 Q1731.3 45.8 1730.3 59.8 Q1729.3 69.8 1727.3 71.8 Q1727.3 59.8 1722.3 54.8 Q1712.3 49.8 1702.3 55.8 Q1699.3 61.8 1699.3 70.8 Q1696.3 69.8 1694.3 65.8 Z" fill="#1A1614"/><path d="M1704.3 64.8 h5 M1716.3 64.8 h5" stroke="#4A3A34" stroke-width="1.8"/></g></svg>
<div class="t" style="left:255.99px;top:47.16px;font-size:49.42px;font-weight:700;color:#000;transform:scaleX(0.9755);">Good morning, James!</div>
<div class="t" style="left:288.70px;top:281.61px;font-size:38.37px;font-weight:700;color:#0a0a0a;transform:scaleX(0.9701);">$143,624</div>
<div class="t" style="left:569.05px;top:281.61px;font-size:38.37px;font-weight:700;color:#0a0a0a;transform:scaleX(0.8137);">12</div>
<div class="t" style="left:855.16px;top:281.61px;font-size:38.37px;font-weight:700;color:#0a0a0a;transform:scaleX(0.9469);">7</div>
<div class="t" style="left:1141.00px;top:282.72px;font-size:37.06px;font-weight:700;color:#0a0a0a;transform:scaleX(1.0399);">$3,287.49</div>
<div class="t" style="left:287.87px;top:344.28px;font-size:19.04px;font-weight:400;color:#1a1a1a;transform:scaleX(1.1158);">Your bank</div>
<div class="t" style="left:286.76px;top:373.58px;font-size:19.04px;font-weight:400;color:#1a1a1a;transform:scaleX(1.2095);">balance</div>
<div class="t" style="left:568.62px;top:344.28px;font-size:19.04px;font-weight:400;color:#1a1a1a;transform:scaleX(1.1616);">Uncategorized</div>
<div class="t" style="left:570.00px;top:373.58px;font-size:19.04px;font-weight:400;color:#1a1a1a;transform:scaleX(1.1806);">transactions</div>
<div class="t" style="left:853.71px;top:344.28px;font-size:19.04px;font-weight:400;color:#1a1a1a;transform:scaleX(1.1356);">Employees</div>
<div class="t" style="left:855.74px;top:373.58px;font-size:19.04px;font-weight:400;color:#1a1a1a;transform:scaleX(1.1564);">working today</div>
<div class="t" style="left:1140.08px;top:344.28px;font-size:19.04px;font-weight:400;color:#1a1a1a;transform:scaleX(1.0676);">This week's</div>
<div class="t" style="left:1139.70px;top:373.58px;font-size:19.04px;font-weight:400;color:#1a1a1a;transform:scaleX(1.1835);">card spending</div>
<div class="t" style="left:301.89px;top:525.15px;font-size:26.16px;font-weight:700;color:#0a0a0a;transform:scaleX(1.0471);">New clients</div>
<div class="t" style="left:306.38px;top:563.54px;font-size:83.58px;font-weight:700;color:#000;transform:scaleX(1.0088);">54</div>
<div class="t" style="left:457.45px;top:597.03px;font-size:21.22px;font-weight:400;color:#468A39;transform:scaleX(0.8590);">+ 18.7%</div>
<div class="t" style="left:301.89px;top:741.96px;font-size:25.44px;font-weight:700;color:#0a0a0a;transform:scaleX(1.0784);">Invoices overdue</div>
<div class="t" style="left:330.46px;top:780.45px;font-size:80.96px;font-weight:700;color:#000;transform:scaleX(1.0054);">6</div>
<div class="t" style="left:460.79px;top:813.86px;font-size:19.77px;font-weight:400;color:#962236;transform:scaleX(0.9773);">+ 2.7%</div>
<div class="t" style="left:658.56px;top:522.75px;font-size:26.16px;font-weight:700;color:#0a0a0a;transform:scaleX(1.0611);">Revenue</div>
<div class="t" style="left:1075.98px;top:523.34px;font-size:21.80px;font-weight:400;color:#1e1e1e;transform:scaleX(0.9492);">Last 7 days VS prior week</div>
<div class="t" style="left:661.55px;top:588.35px;font-size:18.60px;font-weight:400;color:#6B7178;transform:scaleX(0.9772);">20K</div>
<div class="t" style="left:666.02px;top:658.75px;font-size:18.60px;font-weight:400;color:#6B7178;transform:scaleX(0.8412);">15K</div>
<div class="t" style="left:666.02px;top:729.15px;font-size:18.60px;font-weight:400;color:#6B7178;transform:scaleX(0.8412);">10K</div>
<div class="t" style="left:688.44px;top:800.81px;font-size:17.59px;font-weight:400;color:#6B7178;transform:scaleX(1.0235);">0</div>
<div class="t" style="left:727.13px;top:829.85px;font-size:18.60px;font-weight:400;color:#6B7580;transform:scaleX(0.9410);">Feb 14</div>
<div class="t" style="left:810.13px;top:829.85px;font-size:18.60px;font-weight:400;color:#6B7580;transform:scaleX(0.9423);">Feb 15</div>
<div class="t" style="left:898.10px;top:829.85px;font-size:18.60px;font-weight:400;color:#6B7580;transform:scaleX(0.9639);">Feb 16</div>
<div class="t" style="left:987.15px;top:829.85px;font-size:18.60px;font-weight:400;color:#6B7580;transform:scaleX(0.9297);">Feb 17</div>
<div class="t" style="left:1077.32px;top:829.85px;font-size:18.60px;font-weight:400;color:#6B7580;transform:scaleX(0.9513);">Feb 18</div>
<div class="t" style="left:1166.80px;top:829.85px;font-size:18.60px;font-weight:400;color:#6B7580;transform:scaleX(0.9639);">Feb 19</div>
<div class="t" style="left:1256.89px;top:829.85px;font-size:18.60px;font-weight:400;color:#6B7580;transform:scaleX(1.0410);">Feb 20</div>
<div class="t" style="left:843.71px;top:574.39px;font-size:12.06px;font-weight:400;color:#cfcfcf;transform:scaleX(0.9440);">Feb 15:</div>
<div class="t" style="left:884.20px;top:574.39px;font-size:12.06px;font-weight:700;color:#fff;transform:scaleX(0.9904);">$16.259,78</div>
<div class="t" style="left:845.28px;top:592.29px;font-size:12.06px;font-weight:400;color:#cfcfcf;transform:scaleX(1.0258);">Feb 8:</div>
<div class="t" style="left:882.90px;top:592.29px;font-size:12.06px;font-weight:700;color:#fff;transform:scaleX(0.9726);">$12.790,34</div>
<div class="t" style="left:285.99px;top:957.49px;font-size:29.07px;font-weight:700;color:#000;transform:scaleX(1.0493);">Recent emails</div>
<div class="t" style="left:437.58px;top:1023.32px;font-size:20.06px;font-weight:400;color:#4E555C;transform:scaleX(1.0967);">Hannah Morgan</div>
<div class="t" style="left:704.18px;top:1023.32px;font-size:20.06px;font-weight:400;color:#4E555C;transform:scaleX(1.0991);">Meeting scheduled</div>
<div class="t" style="left:1236.14px;top:1023.32px;font-size:20.06px;font-weight:400;color:#4E555C;transform:scaleX(0.9238);">1:24 PM</div>
<div class="t" style="left:437.62px;top:1106.22px;font-size:20.06px;font-weight:400;color:#4E555C;transform:scaleX(1.0698);">Megan Clark</div>
<div class="t" style="left:704.49px;top:1106.22px;font-size:20.06px;font-weight:400;color:#4E555C;transform:scaleX(1.1210);">Update on marketing campaign</div>
<div class="t" style="left:1227.36px;top:1106.22px;font-size:20.06px;font-weight:400;color:#4E555C;transform:scaleX(0.9057);">12:32 PM</div>
<div class="t" style="left:437.61px;top:1195.82px;font-size:20.06px;font-weight:400;color:#4E555C;transform:scaleX(1.0808);">Brandon Williams</div>
<div class="t" style="left:704.21px;top:1195.82px;font-size:20.06px;font-weight:400;color:#4E555C;transform:scaleX(1.0773);">Designly 2.0 is about to launch</div>
<div class="t" style="left:1106.27px;top:1195.82px;font-size:20.06px;font-weight:400;color:#4E555C;transform:scaleX(1.0418);">Yesterday at 8:57 PM</div>
<div class="t" style="left:437.66px;top:1275.02px;font-size:20.06px;font-weight:400;color:#4E555C;transform:scaleX(1.0482);">Reid Smith</div>
<div class="t" style="left:704.22px;top:1275.02px;font-size:20.06px;font-weight:400;color:#4E555C;transform:scaleX(1.0717);">My friend Julie loves Dappr!</div>
<div class="t" style="left:1105.27px;top:1275.02px;font-size:20.06px;font-weight:400;color:#4E555C;transform:scaleX(1.0471);">Yesterday at 8:49 PM</div>
<div class="t" style="left:1456.50px;top:180.04px;font-size:31.25px;font-weight:700;color:#fff;transform:scaleX(1.0249);">Formation status</div>
<div class="t" style="left:1455.18px;top:229.56px;font-size:22.97px;font-weight:400;color:#fff;transform:scaleX(1.0127);">In progress</div>
<div class="t" style="left:1519.61px;top:339.22px;font-size:20.64px;font-weight:700;color:#fff;transform:scaleX(1.0808);">Estimated processing</div>
<div class="t" style="left:1540.43px;top:370.82px;font-size:20.64px;font-weight:400;color:#fff;transform:scaleX(1.1470);">4-5 business days</div>
<div class="t" style="left:1574.00px;top:449.84px;font-size:21.80px;font-weight:700;color:#111;transform:scaleX(1.0196);">View status</div>
<div class="t" style="left:1425.07px;top:566.11px;font-size:27.03px;font-weight:700;color:#111;transform:scaleX(1.0133);">Your to-Do list</div>
<div class="t" style="left:1508.53px;top:636.68px;font-size:19.04px;font-weight:700;color:#111;transform:scaleX(1.0682);">Run payroll</div>
<div class="t" style="left:1508.45px;top:665.92px;font-size:14.97px;font-weight:400;color:#4a4f55;transform:scaleX(1.1571);">Mar 4 at 6:00 pm</div>
<div class="t" style="left:1508.52px;top:732.88px;font-size:19.04px;font-weight:700;color:#111;transform:scaleX(1.0727);">Review time off request</div>
<div class="t" style="left:1508.46px;top:762.12px;font-size:14.97px;font-weight:400;color:#4a4f55;transform:scaleX(1.1455);">Mar 7 at 6:00 pm</div>
<div class="t" style="left:1509.48px;top:829.08px;font-size:19.04px;font-weight:700;color:#111;transform:scaleX(1.0694);">Sign board resolution</div>
<div class="t" style="left:1508.49px;top:858.32px;font-size:14.97px;font-weight:400;color:#4a4f55;transform:scaleX(1.1209);">Mar 12 at 6:00 pm</div>
<div class="t" style="left:1508.53px;top:925.28px;font-size:19.04px;font-weight:700;color:#111;transform:scaleX(1.0702);">Finish onboarding Tony</div>
<div class="t" style="left:1508.49px;top:954.52px;font-size:14.97px;font-weight:400;color:#4a4f55;transform:scaleX(1.1209);">Mar 12 at 6:00 pm</div>
<div class="t" style="left:1484.40px;top:1057.49px;font-size:22.09px;font-weight:700;color:#fff;transform:scaleX(1.0153);">Board meeting</div>
<div class="t" style="left:1484.21px;top:1093.28px;font-size:20.93px;font-weight:400;color:#e2e2e2;transform:scaleX(0.9737);">Feb 22 at 6:00 PM</div>
<div class="t" style="left:1485.50px;top:1132.40px;font-size:18.90px;font-weight:400;color:#a9a9a9;transform:scaleX(1.0067);">You have been invited to attend a</div>
<div class="t" style="left:1484.62px;top:1157.30px;font-size:18.90px;font-weight:400;color:#a9a9a9;">meeting of the Board Directors.</div>

</body></html>
